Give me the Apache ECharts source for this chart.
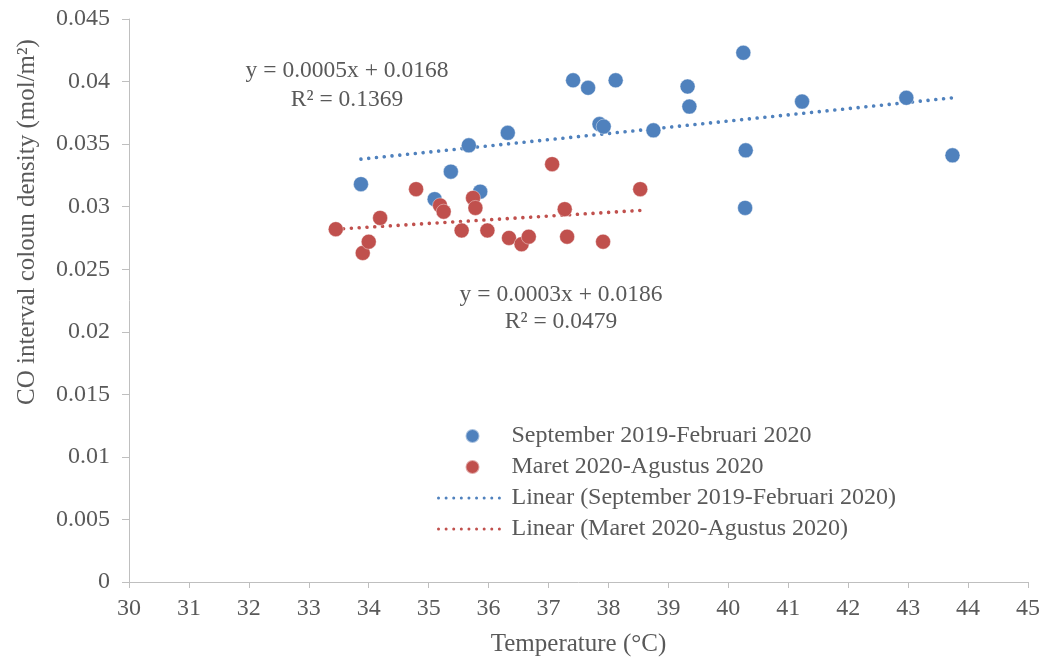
<!DOCTYPE html>
<html>
<head>
<meta charset="utf-8">
<script src="https://cdn.jsdelivr.net/npm/echarts@6/dist/echarts.min.js"></script>
<style>
html,body{margin:0;padding:0;background:#fff;}
#chart{width:1044px;height:662px;}
</style>
</head>
<body>
<div id="chart"></div>
<script>
// Temperature (°C) and CO column density (mol/m²)
const seriesNames = ['September 2019-Februari 2020', 'Maret 2020-Agustus 2020'];
const sepFebTemp = [33.87, 35.10, 35.37, 35.67, 35.86, 36.32, 37.41, 37.66, 38.12, 37.85, 37.92, 38.75, 39.32, 39.35, 40.25, 40.29, 40.28, 41.23, 42.97, 43.74];
const sepFebCO   = [0.0318, 0.0306, 0.0328, 0.0349, 0.0312, 0.0359, 0.0401, 0.0395, 0.0401, 0.0366, 0.0364, 0.0361, 0.0396, 0.0380, 0.0423, 0.0345, 0.0299, 0.0384, 0.0387, 0.0341];
const marAugTemp = [33.45, 33.90, 34.00, 34.19, 34.79, 35.19, 35.25, 35.74, 35.78, 35.55, 35.98, 36.34, 36.55, 36.67, 37.06, 37.27, 37.31, 37.91, 38.53];
const marAugCO   = [0.0282, 0.0263, 0.0272, 0.0291, 0.0314, 0.0301, 0.0296, 0.0307, 0.0299, 0.0281, 0.0281, 0.0275, 0.0270, 0.0276, 0.0334, 0.0298, 0.0276, 0.0272, 0.0314];
// Trendline end points
const sepFebTrendX = [33.87, 43.74];
const sepFebTrendY = [0.0338, 0.0387];
const marAugTrendX = [33.45, 38.53];
const marAugTrendY = [0.0282, 0.0297];
const equations = ['y = 0.0005x + 0.0168', 'R² = 0.1369', 'y = 0.0003x + 0.0186', 'R² = 0.0479'];
const xTicks = {min: 30, max: 45, interval: 1};
const yTicks = {min: 0, max: 0.045, interval: 0.005};

const zip = (a, b) => a.map((v, i) => [v, b[i]]);
const FONT = '"Liberation Serif", "Times New Roman", serif';
const TXT = '#595959';
const BLUE = '#4F81BD';
const RED = '#C0504D';
const AXIS = '#BFBFBF';

const chart = echarts.init(document.getElementById('chart'), null, {renderer: 'canvas'});
const dotted = (c) => ({color: c, width: 3.6, type: [0.01, 7.8], cap: 'round'});
const legendDotted = (c) => ({color: c, width: 3, type: [0.01, 7.6], cap: 'round'});

chart.setOption({
  backgroundColor: '#fff',
  animation: false,
  grid: {left: 129, right: 16, top: 19, bottom: 80, containLabel: false},
  xAxis: {
    type: 'value', min: xTicks.min, max: xTicks.max, interval: xTicks.interval,
    name: 'Temperature (°C)', nameLocation: 'middle', nameGap: 50,
    nameTextStyle: {fontFamily: FONT, fontSize: 25, color: TXT},
    axisLine: {show: true, lineStyle: {color: AXIS, width: 1}},
    axisTick: {show: true, length: 6, lineStyle: {color: AXIS}},
    axisLabel: {fontFamily: FONT, fontSize: 24, color: TXT, margin: 15},
    splitLine: {show: false}
  },
  yAxis: {
    type: 'value', min: yTicks.min, max: yTicks.max, interval: yTicks.interval,
    axisLine: {show: true, lineStyle: {color: AXIS, width: 1}},
    axisTick: {show: true, length: 7, lineStyle: {color: AXIS}},
    axisLabel: {fontFamily: FONT, fontSize: 24, color: TXT, margin: 19,
      formatter: v => String(+v.toFixed(4))},
    splitLine: {show: false}
  },
  legend: {
    orient: 'vertical', left: 437, top: 424, padding: 0,
    itemWidth: 68, itemHeight: 14, itemGap: 7,
    textStyle: {fontFamily: FONT, fontSize: 24, color: TXT, lineHeight: 24},
    data: [
      {name: seriesNames[0], icon: 'circle'},
      {name: seriesNames[1], icon: 'circle'},
      {name: 'Linear (' + seriesNames[0] + ')', itemStyle: {opacity: 0}, lineStyle: legendDotted(BLUE)},
      {name: 'Linear (' + seriesNames[1] + ')', itemStyle: {opacity: 0}, lineStyle: legendDotted(RED)}
    ]
  },
  graphic: [
    {type: 'text', x: 27, y: 222, rotation: Math.PI / 2,
      style: {text: 'CO interval coloun density (mol/m²)', font: '25px ' + FONT, fill: TXT, align: 'center', verticalAlign: 'middle'}},
    {type: 'text', x: 347, y: 71, style: {text: equations[0], font: '23.5px ' + FONT, fill: TXT, align: 'center', verticalAlign: 'middle'}},
    {type: 'text', x: 347, y: 100, style: {text: equations[1], font: '23.5px ' + FONT, fill: TXT, align: 'center', verticalAlign: 'middle'}},
    {type: 'text', x: 561, y: 295, style: {text: equations[2], font: '23.5px ' + FONT, fill: TXT, align: 'center', verticalAlign: 'middle'}},
    {type: 'text', x: 561, y: 322, style: {text: equations[3], font: '23.5px ' + FONT, fill: TXT, align: 'center', verticalAlign: 'middle'}}
  ],
  series: [
    {name: 'Linear (' + seriesNames[0] + ')', type: 'line', data: zip(sepFebTrendX, sepFebTrendY),
      symbol: 'none', lineStyle: dotted(BLUE), itemStyle: {color: BLUE}, z: 1, silent: true},
    {name: 'Linear (' + seriesNames[1] + ')', type: 'line', data: zip(marAugTrendX, marAugTrendY),
      symbol: 'none', lineStyle: dotted(RED), itemStyle: {color: RED}, z: 1, silent: true},
    {name: seriesNames[0], type: 'scatter', data: zip(sepFebTemp, sepFebCO), symbol: 'circle', symbolSize: 15,
      itemStyle: {color: BLUE, borderColor: 'rgba(255,255,255,0.5)', borderWidth: 0.8, opacity: 1}, z: 3},
    {name: seriesNames[1], type: 'scatter', data: zip(marAugTemp, marAugCO), symbol: 'circle', symbolSize: 15,
      itemStyle: {color: RED, borderColor: 'rgba(255,255,255,0.5)', borderWidth: 0.8, opacity: 1}, z: 4}
  ]
});
</script>
</body>
</html>
